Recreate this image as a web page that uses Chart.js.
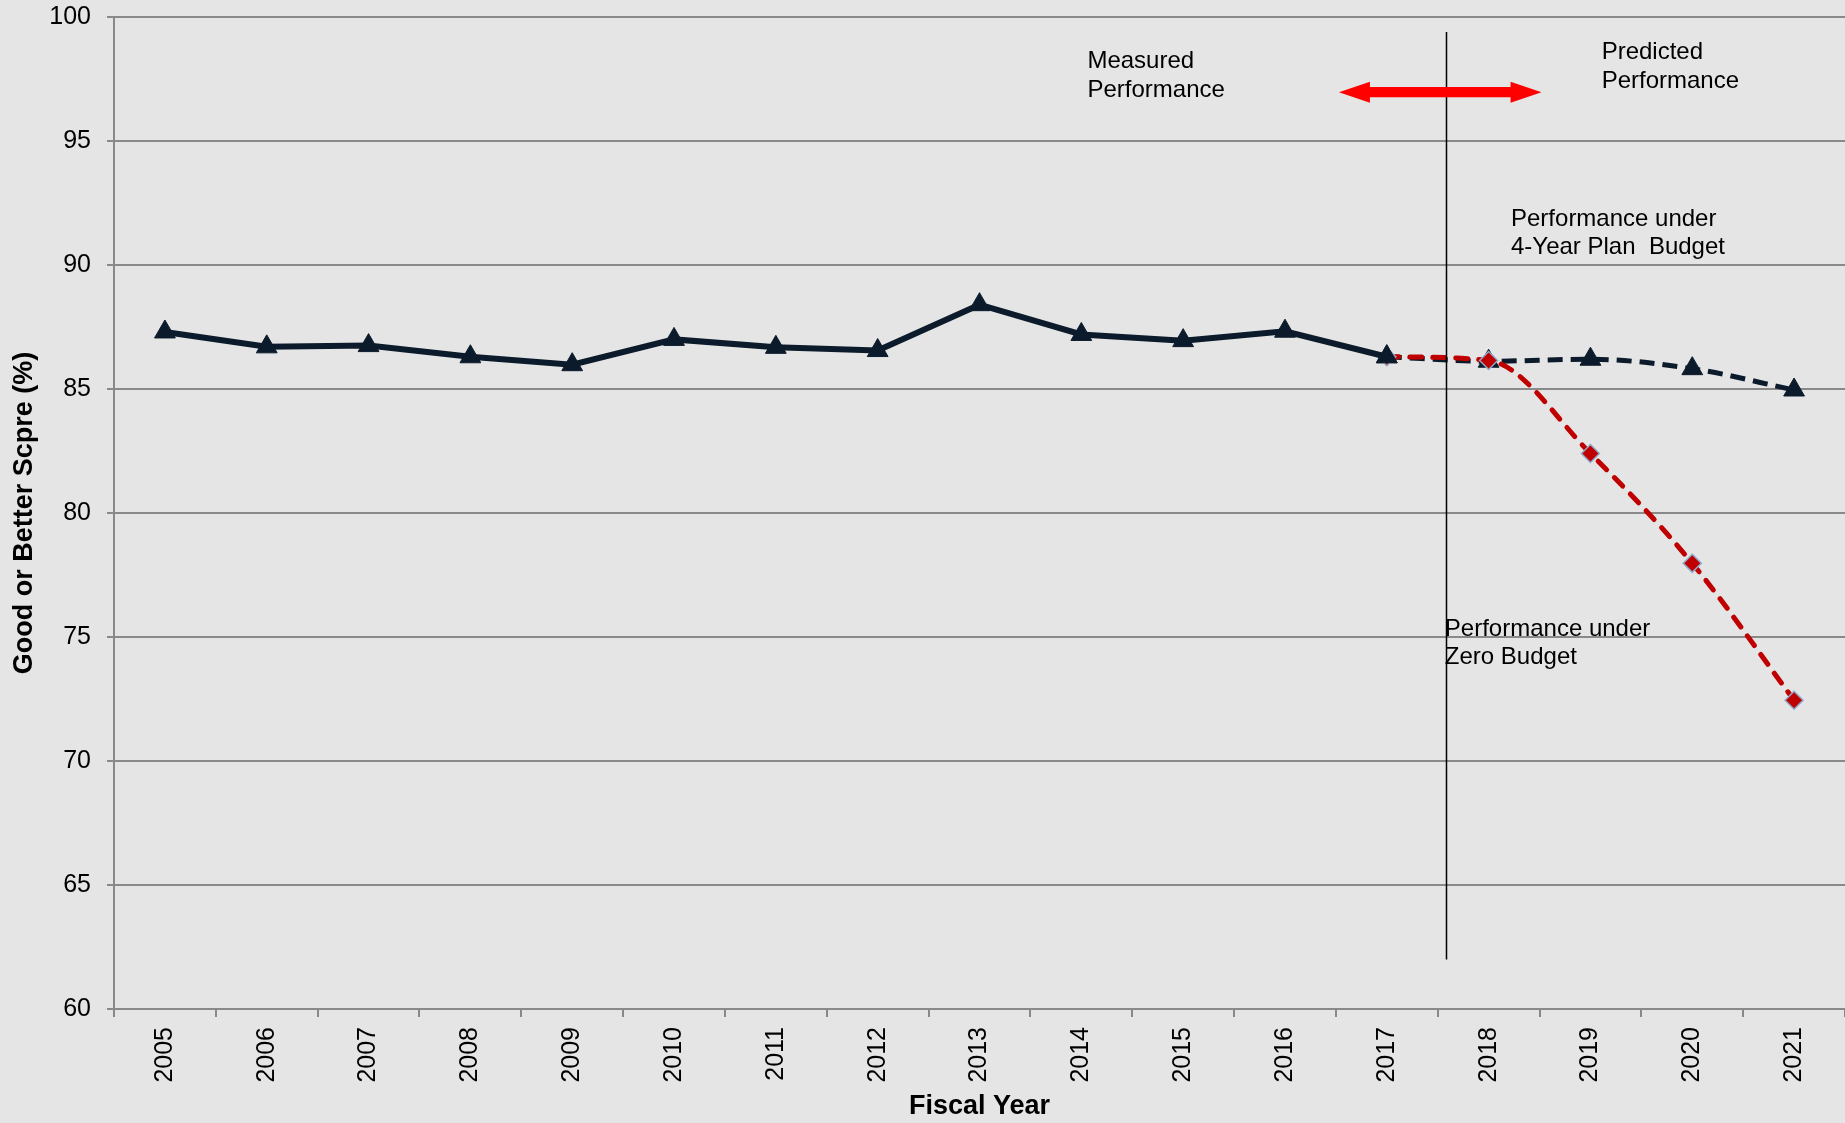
<!DOCTYPE html>
<html>
<head>
<meta charset="utf-8">
<title>Good or Better Score</title>
<script src="https://cdn.jsdelivr.net/npm/chart.js@4.4.1/dist/chart.umd.min.js"></script>
<style>
  html, body { margin: 0; padding: 0; background: #e5e5e5; overflow: hidden; }
  #scoreChart { display: block; }
</style>
</head>
<body>
<canvas id="scoreChart" width="1845" height="1123"></canvas>
<script>
// chart data
const years = ['2005', '2006', '2007', '2008', '2009', '2010', '2011', '2012', '2013',
  '2014', '2015', '2016', '2017', '2018', '2019', '2020', '2021'];
const measured = [87.3, 86.7, 86.75, 86.3, 85.98, 87.0, 86.68, 86.55, 88.4,
  87.2, 86.95, 87.33, 86.3, null, null, null, null];
const planBudget = [null, null, null, null, null, null, null, null, null,
  null, null, null, 86.3, 86.12, 86.2, 85.82, 84.96];
const zeroBudget = [null, null, null, null, null, null, null, null, null,
  null, null, null, 86.3, 86.15, 82.4, 77.97, 72.45];
const yTicks = [60, 65, 70, 75, 80, 85, 90, 95, 100];

// annotation anchors (category index, value)
const dividerAt = 12.58;
const dividerRange = [62.0, 99.4];
const arrowFrom = 11.53;
const arrowTo = 13.52;
const arrowLevel = 96.97;
const notes = [
  { lines: ['Measured', 'Performance'], at: 9.06, level: 98.2 },
  { lines: ['Predicted', 'Performance'], at: 14.11, level: 98.57 },
  { lines: ['Performance under', '4-Year Plan  Budget'], at: 13.22, level: 91.85 },
  { lines: ['Performance under', 'Zero Budget'], at: 12.57, level: 75.32 }
];

const navy = '#0c1b2b';
const gridGray = '#898989';
const fontFamily = '"Liberation Sans", Arial, sans-serif';

// draws the divider, the red arrow and the text notes
const annotations = {
  id: 'annotations',
  afterDatasetsDraw(chart) {
    const { ctx, scales: { x, y } } = chart;
    ctx.save();

    // divider line
    const dx = Math.round(x.getPixelForValue(dividerAt)) + 0.5;
    ctx.strokeStyle = '#000';
    ctx.lineWidth = 1.5;
    ctx.beginPath();
    ctx.moveTo(dx, y.getPixelForValue(dividerRange[1]));
    ctx.lineTo(dx, y.getPixelForValue(dividerRange[0]));
    ctx.stroke();

    // double headed arrow
    const ax1 = x.getPixelForValue(arrowFrom);
    const ax2 = x.getPixelForValue(arrowTo);
    const ay = y.getPixelForValue(arrowLevel);
    const head = 31, half = 10.5, shaft = 5.2;
    ctx.fillStyle = '#ff0000';
    ctx.beginPath();
    ctx.moveTo(ax1, ay);
    ctx.lineTo(ax1 + head, ay - half);
    ctx.lineTo(ax1 + head, ay - shaft);
    ctx.lineTo(ax2 - head, ay - shaft);
    ctx.lineTo(ax2 - head, ay - half);
    ctx.lineTo(ax2, ay);
    ctx.lineTo(ax2 - head, ay + half);
    ctx.lineTo(ax2 - head, ay + shaft);
    ctx.lineTo(ax1 + head, ay + shaft);
    ctx.lineTo(ax1 + head, ay + half);
    ctx.closePath();
    ctx.fill();

    // notes
    ctx.fillStyle = '#000';
    ctx.font = '24px ' + fontFamily;
    ctx.textAlign = 'left';
    ctx.textBaseline = 'middle';
    notes.forEach(n => {
      const tx = x.getPixelForValue(n.at);
      const ty = y.getPixelForValue(n.level);
      n.lines.forEach((line, i) => ctx.fillText(line, tx, ty + i * 28.5));
    });

    ctx.restore();
  }
};

const ctx = document.getElementById('scoreChart').getContext('2d');

new Chart(ctx, {
  type: 'line',
  data: {
    labels: years,
    datasets: [
      {
        label: 'Measured Performance',
        data: measured,
        borderColor: navy,
        backgroundColor: navy,
        borderWidth: 6,
        pointStyle: 'triangle',
        pointRadius: 12,
        pointBorderWidth: 1,
        tension: 0,
        order: 0
      },
      {
        label: 'Performance under Zero Budget',
        data: zeroBudget,
        borderColor: '#c00000',
        backgroundColor: '#c00000',
        pointBorderColor: '#8eaacb',
        borderWidth: 5,
        borderDash: [12, 11],
        borderCapStyle: 'round',
        pointStyle: 'rectRot',
        pointRadius: 9,
        pointBorderWidth: 1.5,
        cubicInterpolationMode: 'monotone',
        order: 1
      },
      {
        label: 'Performance under 4-Year Plan Budget',
        data: planBudget,
        borderColor: navy,
        backgroundColor: navy,
        borderWidth: 5,
        borderDash: [15, 8],
        pointStyle: 'triangle',
        pointRadius: 12,
        pointBorderWidth: 1,
        cubicInterpolationMode: 'monotone',
        order: 2
      }
    ]
  },
  options: {
    responsive: false,
    animation: false,
    layout: { autoPadding: false, padding: { top: 17, right: 0, left: 0, bottom: 0 } },
    plugins: {
      legend: { display: false },
      tooltip: { enabled: false }
    },
    scales: {
      x: {
        offset: true,
        grid: {
          offset: true,
          drawOnChartArea: false,
          drawTicks: true,
          tickLength: 8,
          color: gridGray,
          lineWidth: 2
        },
        border: { display: true, color: gridGray, width: 2 },
        ticks: {
          color: '#000',
          font: { family: fontFamily, size: 25 },
          minRotation: 90,
          maxRotation: 90,
          padding: 10,
          autoSkip: false
        },
        title: {
          display: true,
          text: 'Fiscal Year',
          color: '#000',
          font: { family: fontFamily, size: 27, weight: 'bold' },
          padding: { top: 0, bottom: 0 }
        },
        afterFit(scale) {
          scale.height = 1123 - 1009;
          scale.paddingLeft = 0;
          scale.paddingRight = 0;
        }
      },
      y: {
        min: 60,
        max: 100,
        afterBuildTicks(scale) { scale.ticks = yTicks.map(v => ({ value: v })); },
        grid: {
          color: gridGray,
          lineWidth: 2,
          tickLength: 7
        },
        border: { display: true, color: gridGray, width: 2 },
        ticks: {
          color: '#000',
          font: { family: fontFamily, size: 25 },
          padding: 16
        },
        title: {
          display: true,
          text: 'Good or Better Scpre (%)',
          color: '#000',
          font: { family: fontFamily, size: 27, weight: 'bold' },
          padding: { top: 8, bottom: 0 }
        },
        afterFit(scale) {
          scale.width = 114;
          scale.paddingTop = 0;
          scale.paddingBottom = 0;
        }
      }
    }
  },
  plugins: [annotations]
});
</script>
</body>
</html>
